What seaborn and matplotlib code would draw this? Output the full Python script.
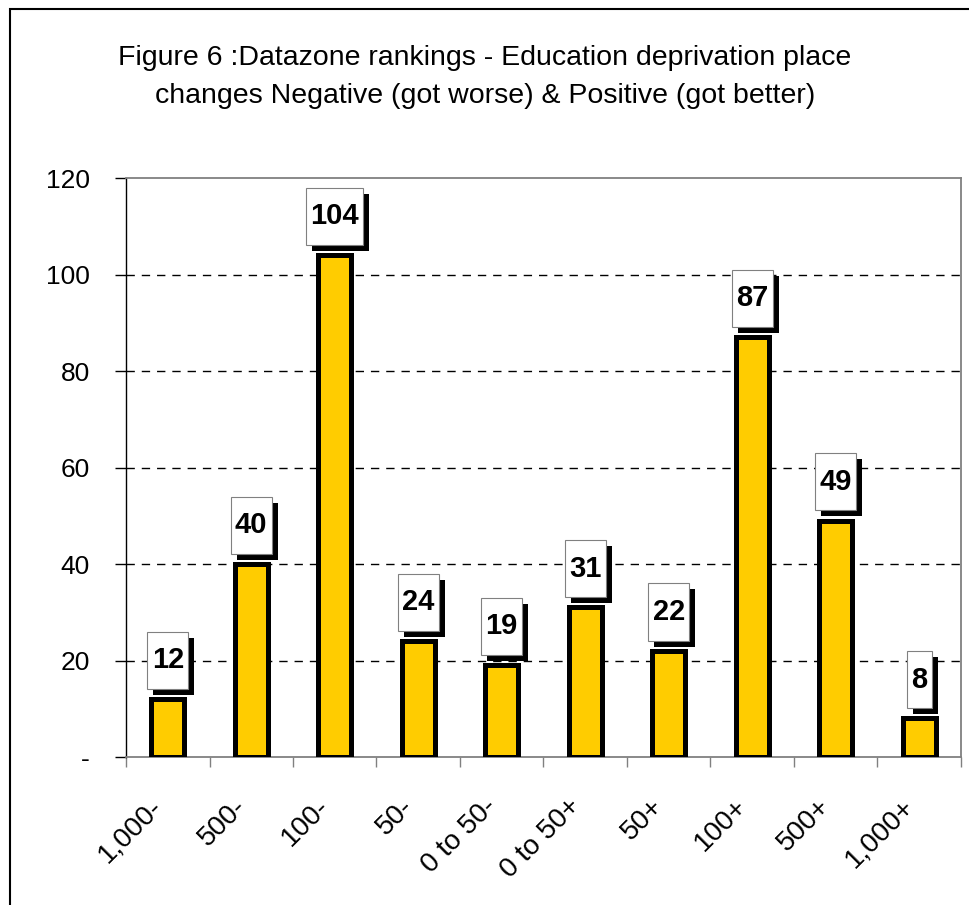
import matplotlib
matplotlib.use("Agg")
from matplotlib import pyplot as plt
from matplotlib.path import Path
from matplotlib.patches import Rectangle
from matplotlib.transforms import ScaledTranslation
import matplotlib.patheffects as pe
import pandas as pd
import seaborn as sns

categories = ['1,000-', '500-', '100-', '50-', '0 to 50-', '0 to 50+', '50+', '100+', '500+', '1,000+']
counts = [12, 40, 104, 24, 19, 31, 22, 87, 49, 8]
y_ticks = [0, 20, 40, 60, 80, 100, 120]
y_tick_labels = ['-', '20', '40', '60', '80', '100', '120']
title = ('Figure 6 :Datazone rankings - Education deprivation place\n'
         'changes Negative (got worse) & Positive (got better)')

sns.set_style('white')
plt.rcParams['font.family'] = ['Liberation Sans', 'DejaVu Sans']
plt.rcParams.update({'text.color': 'black', 'xtick.color': 'black', 'ytick.color': 'black',
                     'axes.labelcolor': 'black'})

data = pd.DataFrame({'band': categories, 'count': counts})

fig = plt.figure(figsize=(9.7, 9.05), dpi=100)
ax = fig.add_axes([0.1299, 0.1635, 0.8608, 0.6398])

# outer frame of the chart area (left + top edge only visible)
fig.patches.append(Rectangle((10 / 970, -0.05), 1.2, 1 - 9 / 905 + 0.05,
                             transform=fig.transFigure, fill=False,
                             ec='black', lw=1.5, zorder=0))

sns.barplot(data=data, x='band', y='count', ax=ax, color='#FFCC00',
            saturation=1, width=0.4, edgecolor='black', linewidth=3.6, zorder=3)

ax.set_xlim(-0.5, len(categories) - 0.5)
ax.set_ylim(0, 120)
ax.set_yticks(y_ticks)
ax.set_yticklabels(y_tick_labels, fontsize=19)
ax.set_xlabel('')
ax.set_ylabel('')

for y in y_ticks[1:-1]:
    ax.axhline(y, color='black', lw=1, ls=(0, (6, 5)), zorder=1)

for side in ['top', 'right', 'bottom']:
    ax.spines[side].set_color('#808080')
    ax.spines[side].set_linewidth(1.3)
ax.spines['left'].set_color('black')
ax.spines['left'].set_linewidth(1)

ax.tick_params(axis='y', direction='out', length=8, width=1, color='black', pad=18, left=True)
ax.set_xticks([i - 0.5 for i in range(len(categories) + 1)], minor=True)
ax.tick_params(axis='x', which='minor', direction='out', length=7, width=1, color='#808080', bottom=True)
ax.tick_params(axis='x', which='major', length=0, pad=33)
for lab in ax.get_xticklabels():
    lab.set_rotation(45)
    lab.set_ha('right')
    lab.set_va('center')
    lab.set_rotation_mode('anchor')
    lab.set_fontsize(20)
    lab.set_transform(lab.get_transform() + ScaledTranslation(-9 / 100, 0, fig.dpi_scale_trans))


def tall_box(x0, y0, width, height, mutation_size):
    px = 0.15 * mutation_size
    py = 0.5 * mutation_size
    x1, y1 = x0 - px, y0 - py
    x2, y2 = x0 + width + px, y0 + height + py
    return Path([(x1, y1), (x2, y1), (x2, y2), (x1, y2), (x1, y1)],
                [Path.MOVETO, Path.LINETO, Path.LINETO, Path.LINETO, Path.CLOSEPOLY])


for i, v in enumerate(counts):
    t = ax.annotate(str(v), (i, v), xytext=(0, 28), textcoords='offset points',
                    ha='center', va='center', fontsize=21, fontweight='bold', zorder=5,
                    color='black',
                    bbox=dict(boxstyle=tall_box, fc='white', ec='#808080', lw=0.8))
    t.get_bbox_patch().set_path_effects([
        pe.SimplePatchShadow(offset=(4.3, -4.3), shadow_rgbFace='black', alpha=1),
        pe.Normal()])

fig.text(0.5, 0.915, title, ha='center', va='center', fontsize=20.5, linespacing=1.6)

plt.savefig('out.png', dpi=100, facecolor='white')
